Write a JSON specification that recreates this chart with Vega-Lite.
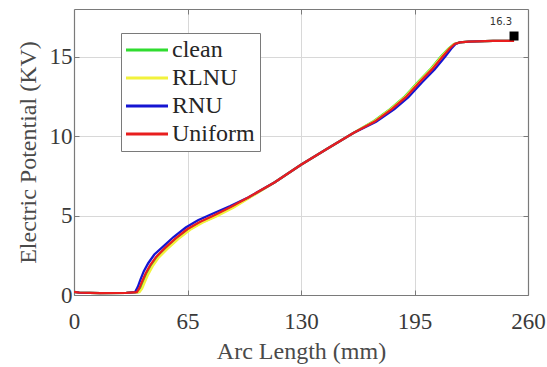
{
  "$schema": "https://vega.github.io/schema/vega-lite/v6.json",
  "width": 454,
  "height": 286,
  "autosize": "none",
  "padding": {"left": 74, "top": 9, "right": 19, "bottom": 72},
  "background": "white",
  "config": {
    "view": {"stroke": null},
    "font": "Liberation Serif, Times New Roman, serif",
    "legend": {"labelFont": "Liberation Serif, Times New Roman, serif", "labelFontWeight": "normal"},
    "axis": {"labelFont": "Liberation Serif, Times New Roman, serif", "titleFont": "Liberation Serif, Times New Roman, serif"}
  },
  "datasets": {
    "curves": [
      {"s": "clean", "x": 0, "y": 0.2}, {"s": "clean", "x": 3, "y": 0.15}, {"s": "clean", "x": 15, "y": 0.12}, {"s": "clean", "x": 30, "y": 0.13},
      {"s": "clean", "x": 36.8, "y": 0.18}, {"s": "clean", "x": 38.3, "y": 0.4}, {"s": "clean", "x": 39.8, "y": 0.8}, {"s": "clean", "x": 41.8, "y": 1.3},
      {"s": "clean", "x": 44.3, "y": 1.8}, {"s": "clean", "x": 47.8, "y": 2.35}, {"s": "clean", "x": 52.8, "y": 2.9}, {"s": "clean", "x": 58.8, "y": 3.5},
      {"s": "clean", "x": 65.8, "y": 4.1}, {"s": "clean", "x": 72.8, "y": 4.55}, {"s": "clean", "x": 80.8, "y": 4.95}, {"s": "clean", "x": 90.8, "y": 5.5},
      {"s": "clean", "x": 100.5, "y": 6.15},
      {"s": "clean", "x": 115, "y": 7.1}, {"s": "clean", "x": 130, "y": 8.2}, {"s": "clean", "x": 145, "y": 9.2}, {"s": "clean", "x": 160, "y": 10.2},
      {"s": "clean", "x": 171, "y": 10.9}, {"s": "clean", "x": 181, "y": 11.7}, {"s": "clean", "x": 189, "y": 12.45}, {"s": "clean", "x": 197, "y": 13.4},
      {"s": "clean", "x": 204, "y": 14.2}, {"s": "clean", "x": 210, "y": 15.0}, {"s": "clean", "x": 214.3, "y": 15.5}, {"s": "clean", "x": 217.6, "y": 15.8},
      {"s": "clean", "x": 221, "y": 15.9}, {"s": "clean", "x": 226, "y": 15.95}, {"s": "clean", "x": 240, "y": 16.0}, {"s": "clean", "x": 252, "y": 16.0},

      {"s": "RLNU", "x": 0, "y": 0.2}, {"s": "RLNU", "x": 3, "y": 0.15}, {"s": "RLNU", "x": 15, "y": 0.12}, {"s": "RLNU", "x": 30, "y": 0.13},
      {"s": "RLNU", "x": 37.5, "y": 0.18}, {"s": "RLNU", "x": 39, "y": 0.4}, {"s": "RLNU", "x": 40.5, "y": 0.8}, {"s": "RLNU", "x": 42.5, "y": 1.3},
      {"s": "RLNU", "x": 45, "y": 1.8}, {"s": "RLNU", "x": 48.5, "y": 2.35}, {"s": "RLNU", "x": 53.5, "y": 2.9}, {"s": "RLNU", "x": 59.5, "y": 3.5},
      {"s": "RLNU", "x": 66.5, "y": 4.1}, {"s": "RLNU", "x": 73.5, "y": 4.55}, {"s": "RLNU", "x": 81.5, "y": 4.95}, {"s": "RLNU", "x": 91.5, "y": 5.5},
      {"s": "RLNU", "x": 101, "y": 6.15},
      {"s": "RLNU", "x": 115, "y": 7.1}, {"s": "RLNU", "x": 130, "y": 8.2}, {"s": "RLNU", "x": 145, "y": 9.2}, {"s": "RLNU", "x": 160, "y": 10.2},
      {"s": "RLNU", "x": 171.4, "y": 10.9}, {"s": "RLNU", "x": 181.4, "y": 11.7}, {"s": "RLNU", "x": 189.4, "y": 12.45}, {"s": "RLNU", "x": 197.4, "y": 13.4},
      {"s": "RLNU", "x": 204.4, "y": 14.2}, {"s": "RLNU", "x": 210.4, "y": 15.0}, {"s": "RLNU", "x": 214.6, "y": 15.5}, {"s": "RLNU", "x": 217.8, "y": 15.8},
      {"s": "RLNU", "x": 221, "y": 15.9}, {"s": "RLNU", "x": 226, "y": 15.95}, {"s": "RLNU", "x": 240, "y": 16.0}, {"s": "RLNU", "x": 252, "y": 16.0},

      {"s": "RNU", "x": 0, "y": 0.2}, {"s": "RNU", "x": 3, "y": 0.15}, {"s": "RNU", "x": 15, "y": 0.12}, {"s": "RNU", "x": 30, "y": 0.13},
      {"s": "RNU", "x": 35, "y": 0.18}, {"s": "RNU", "x": 36.5, "y": 0.5}, {"s": "RNU", "x": 38, "y": 0.95}, {"s": "RNU", "x": 40, "y": 1.5},
      {"s": "RNU", "x": 42.5, "y": 2.0}, {"s": "RNU", "x": 46, "y": 2.55}, {"s": "RNU", "x": 51, "y": 3.05}, {"s": "RNU", "x": 57, "y": 3.65},
      {"s": "RNU", "x": 64, "y": 4.25}, {"s": "RNU", "x": 71, "y": 4.7}, {"s": "RNU", "x": 79, "y": 5.1}, {"s": "RNU", "x": 89.5, "y": 5.6},
      {"s": "RNU", "x": 100, "y": 6.15},
      {"s": "RNU", "x": 115, "y": 7.1}, {"s": "RNU", "x": 130, "y": 8.2}, {"s": "RNU", "x": 145, "y": 9.2}, {"s": "RNU", "x": 160, "y": 10.2},
      {"s": "RNU", "x": 173, "y": 10.9}, {"s": "RNU", "x": 183.5, "y": 11.7}, {"s": "RNU", "x": 191.5, "y": 12.45}, {"s": "RNU", "x": 199.5, "y": 13.4},
      {"s": "RNU", "x": 206.5, "y": 14.2}, {"s": "RNU", "x": 212.5, "y": 15.0}, {"s": "RNU", "x": 216, "y": 15.5}, {"s": "RNU", "x": 218.5, "y": 15.8},
      {"s": "RNU", "x": 221, "y": 15.9}, {"s": "RNU", "x": 226, "y": 15.95}, {"s": "RNU", "x": 240, "y": 16.0}, {"s": "RNU", "x": 252, "y": 16.0},

      {"s": "Uniform", "x": 0, "y": 0.2}, {"s": "Uniform", "x": 3, "y": 0.15}, {"s": "Uniform", "x": 15, "y": 0.12}, {"s": "Uniform", "x": 30, "y": 0.13},
      {"s": "Uniform", "x": 36, "y": 0.18}, {"s": "Uniform", "x": 37.5, "y": 0.45}, {"s": "Uniform", "x": 39, "y": 0.85}, {"s": "Uniform", "x": 41, "y": 1.35},
      {"s": "Uniform", "x": 43.5, "y": 1.85}, {"s": "Uniform", "x": 47, "y": 2.4}, {"s": "Uniform", "x": 52, "y": 2.95}, {"s": "Uniform", "x": 58, "y": 3.55},
      {"s": "Uniform", "x": 65, "y": 4.15}, {"s": "Uniform", "x": 72, "y": 4.6}, {"s": "Uniform", "x": 80, "y": 5.0}, {"s": "Uniform", "x": 90, "y": 5.55},
      {"s": "Uniform", "x": 100, "y": 6.15},
      {"s": "Uniform", "x": 115, "y": 7.1}, {"s": "Uniform", "x": 130, "y": 8.2}, {"s": "Uniform", "x": 145, "y": 9.2}, {"s": "Uniform", "x": 160, "y": 10.2},
      {"s": "Uniform", "x": 172, "y": 10.9}, {"s": "Uniform", "x": 182, "y": 11.7}, {"s": "Uniform", "x": 190, "y": 12.45}, {"s": "Uniform", "x": 198, "y": 13.4},
      {"s": "Uniform", "x": 205, "y": 14.2}, {"s": "Uniform", "x": 211, "y": 15.0}, {"s": "Uniform", "x": 215, "y": 15.5}, {"s": "Uniform", "x": 218, "y": 15.8},
      {"s": "Uniform", "x": 221, "y": 15.9}, {"s": "Uniform", "x": 226, "y": 15.95}, {"s": "Uniform", "x": 240, "y": 16.0}, {"s": "Uniform", "x": 252, "y": 16.0}
    ],
    "peak": [{"x": 252, "y": 16.3}]
  },
  "resolve": {"axis": {"x": "independent", "y": "independent"}},
  "layer": [
    {
      "data": {"name": "curves"},
      "mark": {"type": "line", "strokeWidth": 2.3, "clip": true},
      "encoding": {
        "x": {
          "field": "x", "type": "quantitative",
          "scale": {"domain": [0, 260], "nice": false, "zero": false},
          "axis": {
            "orient": "bottom", "title": "Arc Length (mm)", "values": [0, 65, 130, 195, 260],
            "grid": true, "gridColor": "#d8d8d8", "gridWidth": 1,
            "domainColor": "#7a7a7a", "domainWidth": 1.2,
            "tickColor": "#7a7a7a", "tickSize": -5, "tickWidth": 1,
            "labelFontSize": 23, "labelColor": "#3a3a3a", "labelPadding": 20,
            "labelFlush": false, "labelOverlap": false,
            "titleFontSize": 24, "titleFontWeight": "normal", "titleColor": "#4a4a4a", "titlePadding": 6
          }
        },
        "y": {
          "field": "y", "type": "quantitative",
          "scale": {"domain": [0, 18], "nice": false, "zero": false},
          "axis": {
            "orient": "left", "title": "Electric Potential (KV)", "values": [0, 5, 10, 15],
            "grid": true, "gridColor": "#d8d8d8", "gridWidth": 1,
            "domainColor": "#7a7a7a", "domainWidth": 1.2,
            "tickColor": "#7a7a7a", "tickSize": -5, "tickWidth": 1,
            "labelFontSize": 23, "labelColor": "#3a3a3a", "labelPadding": 7,
            "labelFlush": false, "labelOverlap": false,
            "titleFontSize": 24, "titleFontWeight": "normal", "titleColor": "#4a4a4a", "titlePadding": 9
          }
        },
        "color": {
          "field": "s", "type": "nominal",
          "scale": {"domain": ["clean", "RLNU", "RNU", "Uniform"], "range": ["#2fdc2f", "#f2f23c", "#1515d2", "#e81e1e"]},
          "legend": {
            "orient": "none", "legendX": 47, "legendY": 24, "title": null,
            "symbolType": "M-3,0H3", "symbolSize": 196, "symbolStrokeWidth": 3,
            "symbolOffset": 9, "labelOffset": 13,
            "labelFontSize": 24, "labelColor": "#262626", "labelLimit": 200,
            "rowPadding": 4, "padding": 5,
            "strokeColor": "#7a7a7a", "fillColor": "white"
          }
        }
      }
    },
    {
      "data": {"name": "peak"},
      "mark": {"type": "square", "size": 81, "color": "black", "filled": true, "opacity": 1},
      "encoding": {
        "x": {
          "field": "x", "type": "quantitative",
          "scale": {"domain": [0, 260], "nice": false, "zero": false},
          "axis": {
            "orient": "top", "title": null, "labels": false, "grid": false, "values": [65, 130, 195],
            "domainColor": "#7a7a7a", "domainWidth": 1.2, "tickColor": "#7a7a7a", "tickSize": -5
          }
        },
        "y": {
          "field": "y", "type": "quantitative",
          "scale": {"domain": [0, 18], "nice": false, "zero": false},
          "axis": {
            "orient": "right", "title": null, "labels": false, "grid": false, "values": [5, 10, 15],
            "domainColor": "#7a7a7a", "domainWidth": 1.2, "tickColor": "#7a7a7a", "tickSize": -5
          }
        }
      }
    },
    {
      "data": {"name": "peak"},
      "mark": {"type": "text", "font": "DejaVu Sans", "fontSize": 10, "color": "#333333", "align": "right", "baseline": "middle", "dx": -2, "dy": -14},
      "encoding": {
        "x": {"field": "x", "type": "quantitative", "scale": {"domain": [0, 260], "nice": false, "zero": false}, "axis": null},
        "y": {"field": "y", "type": "quantitative", "scale": {"domain": [0, 18], "nice": false, "zero": false}, "axis": null},
        "text": {"field": "y", "type": "quantitative", "format": ".1f"}
      }
    }
  ]
}
